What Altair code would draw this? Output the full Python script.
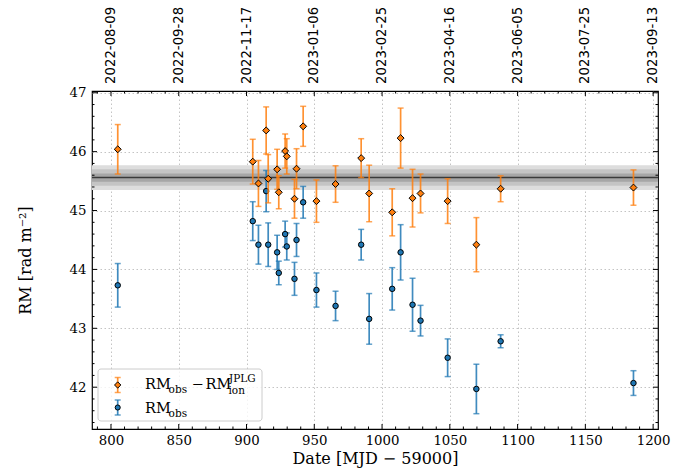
import altair as alt
import pandas as pd

# ---------------- data ----------------
mjd = [805.0, 904.6, 908.8, 914.5, 916.0, 922.6, 923.8, 928.5, 929.7, 935.4, 936.9, 941.8,
       951.6, 965.7, 984.6, 990.5, 1007.5, 1013.7, 1022.5, 1028.4, 1048.4, 1069.6, 1087.5, 1185.5]
rm_corr = [46.04, 45.83, 45.46, 46.36, 45.54, 45.70, 45.31, 46.01, 45.92, 45.20, 45.71, 46.43,
           45.16, 45.45, 45.89, 45.29, 44.97, 46.23, 45.21, 45.29, 45.16, 44.42, 45.37, 45.39]
err_corr = [0.42, 0.38, 0.39, 0.40, 0.41, 0.34, 0.28, 0.29, 0.30, 0.33, 0.34, 0.34,
            0.36, 0.31, 0.33, 0.48, 0.40, 0.51, 0.49, 0.33, 0.38, 0.46, 0.22, 0.30]
rm_obs = [43.73, 44.82, 44.42, 45.33, 44.42, 44.29, 43.94, 44.60, 44.39, 43.84, 44.50, 45.14,
          43.65, 43.38, 44.42, 43.16, 43.67, 44.29, 43.40, 43.13, 42.50, 41.97, 42.78, 42.07]
err_obs = [0.37, 0.33, 0.33, 0.35, 0.37, 0.29, 0.20, 0.22, 0.23, 0.28, 0.28, 0.27,
           0.29, 0.25, 0.26, 0.43, 0.36, 0.47, 0.45, 0.26, 0.32, 0.42, 0.11, 0.21]

band_center = [45.56]
band_lower = [45.35, 45.42, 45.49]   # 3, 2, 1 sigma
band_upper = [45.77, 45.70, 45.63]
band_colors = ["#dddddd", "#c4c4c4", "#a6a6a6"]

x_major = [800, 850, 900, 950, 1000, 1050, 1100, 1150, 1200]
x_minor = [v for v in range(790, 1201, 10) if v % 50 != 0]
y_major = [42, 43, 44, 45, 46, 47]
y_minor = [41.4, 41.6, 41.8, 42.2, 42.4, 42.6, 42.8, 43.2, 43.4, 43.6, 43.8, 44.2, 44.4, 44.6, 44.8,
           45.2, 45.4, 45.6, 45.8, 46.2, 46.4, 46.6, 46.8]
top_dates = ["2022-08-09", "2022-09-28", "2022-11-17", "2023-01-06", "2023-02-25",
             "2023-04-16", "2023-06-05", "2023-07-25", "2023-09-13"]

ORANGE = "#ff7f0e"
BLUE = "#1f77b4"
SERIF = "DejaVu Serif"
W, H = 566, 338
XDOM = [786, 1203.6]
YDOM = [41.29, 47.03]

xs = alt.Scale(domain=XDOM, nice=False, zero=False)
ys = alt.Scale(domain=YDOM, nice=False, zero=False)

AX = alt.Axis(
    values=x_major, ticks=False, domain=False, grid=True, format="d",
    labelFont=SERIF, labelFontSize=13.3, labelColor="black", labelPadding=4,
    title="Date [MJD − 59000]", titleFont=SERIF, titleFontSize=16, titleFontWeight="normal",
    titleColor="black", titlePadding=4,
    gridColor="#bdbdbd", gridDash=[1.5, 2.5], gridWidth=0.9)
AY = alt.Axis(
    values=y_major, ticks=False, domain=False, grid=True, format="d",
    labelFont=SERIF, labelFontSize=13.3, labelColor="black", labelPadding=6,
    title="RM [rad m⁻²]", titleFont=SERIF, titleFontSize=16, titleFontWeight="normal",
    titleColor="black", titlePadding=36,
    gridColor="#bdbdbd", gridDash=[1.5, 2.5], gridWidth=0.9)

def X(f):
    return alt.X(f, scale=xs, axis=AX)

def Y(f):
    return alt.Y(f, scale=ys, axis=AY)

def table(vals, errs):
    return pd.DataFrame({"mjd": mjd, "rm": vals,
                         "lo": [v - e for v, e in zip(vals, errs)],
                         "hi": [v + e for v, e in zip(vals, errs)]})

d_obs = table(rm_obs, err_obs)
d_corr = table(rm_corr, err_corr)

# ---------------- band ----------------
band_df = pd.DataFrame({"lo": band_lower, "hi": band_upper, "c": band_colors})
band = alt.Chart(band_df).mark_rect().encode(
    x=alt.value(0), x2=alt.value(W),
    y=Y("lo:Q"), y2="hi:Q",
    color=alt.Color("c:N", scale=None),
)
center = alt.Chart(pd.DataFrame({"c": band_center})).mark_rule(color="#3a3a3a", strokeWidth=1.5).encode(
    x=alt.value(0), x2=alt.value(W), y=Y("c:Q"))

# ---------------- series ----------------
def series(df, color, shape, size):
    bars = alt.Chart(df).mark_rule(color=color, strokeWidth=1.7, opacity=0.85).encode(
        x=X("mjd:Q"), y=Y("lo:Q"), y2="hi:Q")
    cap_lo = alt.Chart(df).mark_tick(color=color, orient="horizontal", size=6, thickness=1.5, opacity=0.7).encode(
        x=X("mjd:Q"), y=Y("lo:Q"))
    cap_hi = alt.Chart(df).mark_tick(color=color, orient="horizontal", size=6, thickness=1.5, opacity=0.7).encode(
        x=X("mjd:Q"), y=Y("hi:Q"))
    pts = alt.Chart(df).mark_point(shape=shape, filled=True, fill=color, stroke="black",
                                   strokeWidth=1, size=size, opacity=1).encode(
        x=X("mjd:Q"), y=Y("rm:Q"))
    return [bars, cap_lo, cap_hi, pts]

blue_layers = series(d_obs, BLUE, "circle", 30)
orange_layers = series(d_corr, ORANGE, "diamond", 48)

# ---------------- inward ticks ----------------
def xticks(vals, length):
    df = pd.DataFrame({"v": vals})
    b = alt.Chart(df).mark_rule(color="black", strokeWidth=1).encode(
        x=X("v:Q"), y=alt.value(H), y2=alt.value(H - length))
    t = alt.Chart(df).mark_rule(color="black", strokeWidth=1).encode(
        x=X("v:Q"), y=alt.value(0), y2=alt.value(length))
    return [b, t]

def yticks(vals, length):
    df = pd.DataFrame({"v": vals})
    l = alt.Chart(df).mark_rule(color="black", strokeWidth=1).encode(
        y=Y("v:Q"), x=alt.value(0), x2=alt.value(length))
    r = alt.Chart(df).mark_rule(color="black", strokeWidth=1).encode(
        y=Y("v:Q"), x=alt.value(W), x2=alt.value(W - length))
    return [l, r]

tick_layers = xticks(x_major, 5) + xticks(x_minor, 2.5) + yticks(y_major, 5) + yticks(y_minor, 2.5)

# ---------------- top date labels ----------------
top = alt.Chart(pd.DataFrame({"v": x_major, "t": top_dates})).mark_text(
    angle=270, align="left", baseline="middle", font="DejaVu Sans", fontSize=13.3, color="black"
).encode(x=X("v:Q"), y=alt.value(-7), text="t:N")

# ---------------- legend (manual, for sub/superscripts) ----------------
leg_box = alt.Chart(pd.DataFrame({"a": [0]})).mark_rect(
    fill="white", fillOpacity=0.8, stroke="#cccccc", strokeWidth=1, cornerRadius=3
).encode(x=alt.value(6), x2=alt.value(170), y=alt.value(278), y2=alt.value(330))

def leg_symbol(color, shape, size, yc):
    d = pd.DataFrame({"a": [0]})
    bar = alt.Chart(d).mark_rule(color=color, strokeWidth=1.7, opacity=0.85).encode(
        x=alt.value(25.7), y=alt.value(yc - 7.5), y2=alt.value(yc + 7.5))
    c1 = alt.Chart(d).mark_rule(color=color, strokeWidth=1.5, opacity=0.7).encode(
        x=alt.value(22.7), x2=alt.value(28.7), y=alt.value(yc - 7.5))
    c2 = alt.Chart(d).mark_rule(color=color, strokeWidth=1.5, opacity=0.7).encode(
        x=alt.value(22.7), x2=alt.value(28.7), y=alt.value(yc + 7.5))
    p = alt.Chart(d).mark_point(shape=shape, filled=True, fill=color, stroke="black",
                                strokeWidth=1, size=size, opacity=1).encode(
        x=alt.value(25.7), y=alt.value(yc))
    return [bar, c1, c2, p]

def txt(s, x, y, size):
    return alt.Chart(pd.DataFrame({"a": [0]})).mark_text(
        text=s, align="left", baseline="alphabetic", font=SERIF, fontSize=size, color="black"
    ).encode(x=alt.value(x), y=alt.value(y))

legend_layers = [leg_box] + leg_symbol(ORANGE, "diamond", 40, 294) + leg_symbol(BLUE, "circle", 26, 316.5) + [
    txt("RM", 53, 298.3, 14.5), txt("obs", 76.6, 302.3, 10.5),
    txt("−", 99.5, 298.3, 14.5), txt("RM", 113.5, 298.3, 14.5),
    txt("ion", 136.5, 303, 10.5), txt("JPLG", 137, 291, 10.5),
    txt("RM", 53, 321.7, 14.5), txt("obs", 76.6, 325.7, 10.5),
]

chart = alt.layer(
    band, center, *blue_layers, *orange_layers, *tick_layers, top, *legend_layers
).properties(
    width=W, height=H,
    autosize=alt.AutoSizeParams(type="none"),
    padding={"left": 92, "top": 91, "right": 39, "bottom": 40},
).configure(background="white").configure_view(stroke="black", strokeWidth=1.2)

chart.save("out.html", embed_options={"renderer": "svg", "actions": False})
